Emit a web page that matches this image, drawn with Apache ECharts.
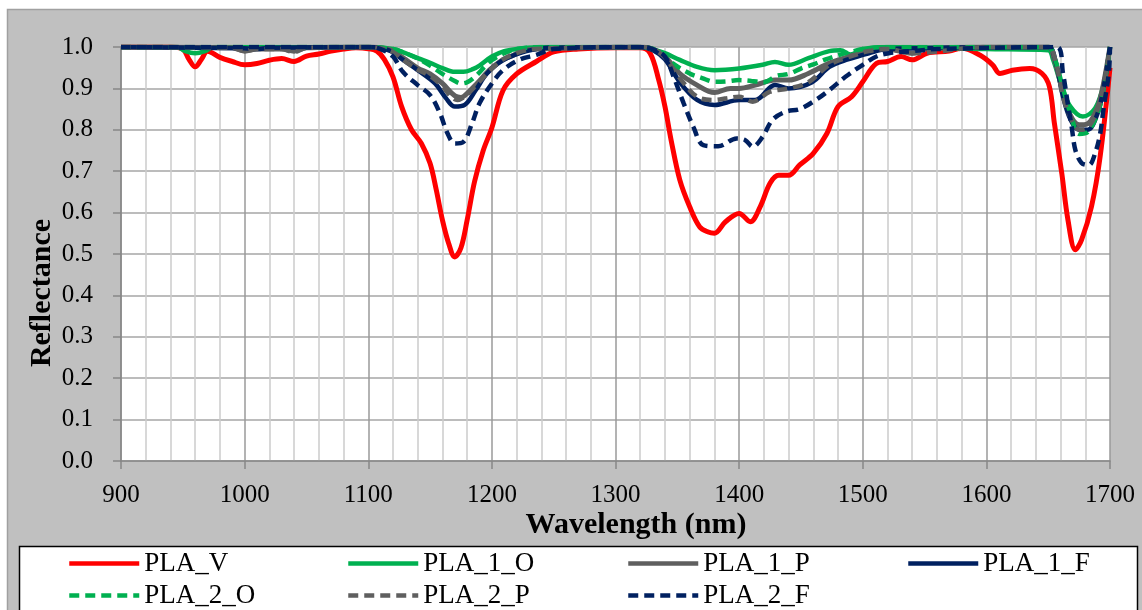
<!DOCTYPE html>
<html>
<head>
<meta charset="utf-8">
<script src="https://cdn.jsdelivr.net/npm/echarts@6/dist/echarts.min.js"></script>
<style>
html,body{margin:0;padding:0;background:#fff;}
#chart{width:1142px;height:610px;}
</style>
</head>
<body>
<div id="chart"></div>
<script>
// ---- data ----
const seriesNames = ['PLA_V','PLA_1_O','PLA_1_P','PLA_1_F','PLA_2_O','PLA_2_P','PLA_2_F'];

const plaV_x = [900,940,950,955,960,965,970,980,990,1000,1010,1020,1030,1040,1050,1060,1070,1080,1090,1100,1107,1113,1120,1127,1135,1143,1150,1155,1160,1165,1170,1175,1180,1186,1193,1200,1209,1220,1236,1250,1270,1300,1320,1328,1335,1340,1345,1352,1360,1368,1375,1380,1389,1400,1409,1417,1425,1432,1440,1449,1460,1471,1480,1491,1500,1511,1520,1531,1540,1552,1570,1580,1595,1605,1611,1621,1635,1645,1651,1655,1661,1666,1672,1677,1685,1692,1700];
const plaV_y = [1.0,1.0,0.995,0.97,0.952,0.97,0.99,0.975,0.965,0.957,0.96,0.968,0.972,0.965,0.978,0.983,0.99,0.995,0.998,0.996,0.99,0.97,0.928,0.856,0.8,0.767,0.719,0.655,0.582,0.526,0.493,0.515,0.582,0.675,0.75,0.805,0.895,0.935,0.965,0.988,0.995,0.998,0.998,0.985,0.92,0.856,0.775,0.679,0.614,0.566,0.553,0.55,0.578,0.598,0.578,0.614,0.671,0.69,0.69,0.715,0.743,0.791,0.856,0.88,0.916,0.96,0.965,0.977,0.969,0.985,0.99,0.997,0.98,0.957,0.936,0.944,0.948,0.936,0.904,0.816,0.695,0.582,0.51,0.534,0.614,0.735,0.95];

const pla1O_x = [900,945,952,960,968,975,1100,1120,1130,1140,1150,1160,1170,1177,1185,1190,1200,1210,1220,1240,1320,1330,1340,1352,1366,1380,1400,1419,1429,1440,1456,1473,1482,1490,1500,1520,1600,1650,1654,1661,1668,1678,1688,1695,1700];
const pla1O_y = [1.0,1.0,0.99,0.985,0.99,1.0,1.0,0.995,0.985,0.973,0.962,0.949,0.94,0.94,0.947,0.955,0.977,0.99,0.995,1.0,1.0,0.995,0.985,0.969,0.952,0.944,0.948,0.957,0.964,0.957,0.973,0.99,0.992,0.982,0.995,1.0,0.995,0.992,0.969,0.904,0.856,0.832,0.852,0.912,1.0];

const pla1P_x = [900,990,1000,1010,1030,1040,1050,1100,1110,1120,1130,1140,1150,1160,1170,1175,1180,1188,1198,1208,1215,1225,1235,1320,1330,1340,1352,1366,1380,1393,1400,1413,1429,1440,1456,1473,1489,1505,1520,1530,1540,1550,1600,1650,1655,1662,1668,1675,1682,1690,1695,1700];
const pla1P_y = [1.0,0.998,0.99,0.995,0.995,0.99,0.998,1.0,0.998,0.99,0.97,0.949,0.935,0.912,0.882,0.878,0.888,0.912,0.944,0.968,0.977,0.99,0.995,1.0,0.995,0.977,0.936,0.908,0.89,0.9,0.9,0.908,0.92,0.92,0.936,0.961,0.977,0.99,0.995,0.99,0.985,0.995,1.0,1.0,0.97,0.89,0.835,0.812,0.815,0.855,0.915,1.0];

const pla1F_x = [900,1000,1010,1020,1100,1110,1118,1130,1140,1154,1163,1170,1178,1187,1196,1209,1228,1245,1320,1330,1340,1352,1366,1380,1400,1413,1429,1440,1459,1473,1488,1505,1520,1650,1656,1662,1668,1675,1682,1690,1695,1700];
const pla1F_y = [1.0,0.997,0.995,0.998,1.0,0.997,0.99,0.965,0.944,0.912,0.876,0.856,0.86,0.896,0.936,0.968,0.99,0.998,1.0,0.993,0.97,0.915,0.872,0.86,0.872,0.872,0.908,0.9,0.915,0.952,0.97,0.985,0.995,1.0,0.965,0.88,0.825,0.8,0.8,0.84,0.905,1.0];

const pla2O_x = [900,1100,1120,1130,1140,1150,1160,1170,1175,1180,1187,1195,1200,1210,1220,1240,1320,1335,1346,1360,1370,1380,1390,1400,1410,1420,1430,1440,1450,1460,1470,1480,1490,1500,1520,1650,1655,1662,1668,1675,1682,1690,1695,1700];
const pla2O_y = [1.0,1.0,0.995,0.985,0.972,0.955,0.935,0.918,0.912,0.915,0.93,0.955,0.968,0.985,0.995,1.0,1.0,0.99,0.961,0.936,0.925,0.916,0.917,0.92,0.918,0.915,0.93,0.935,0.948,0.958,0.97,0.98,0.988,0.995,1.0,1.0,0.975,0.9,0.84,0.79,0.795,0.84,0.9,1.0];

const pla2P_x = [900,990,1000,1010,1030,1040,1050,1100,1110,1120,1130,1140,1150,1160,1167,1172,1178,1188,1198,1208,1220,1235,1320,1330,1340,1352,1366,1380,1390,1400,1411,1425,1440,1456,1473,1488,1505,1520,1540,1600,1650,1656,1662,1668,1675,1682,1690,1695,1700];
const pla2P_y = [1.0,0.998,0.99,0.995,0.995,0.988,0.998,1.0,0.997,0.988,0.965,0.945,0.93,0.905,0.88,0.872,0.88,0.91,0.942,0.968,0.985,0.995,1.0,0.995,0.975,0.925,0.88,0.872,0.876,0.88,0.868,0.892,0.9,0.915,0.957,0.975,0.99,0.995,0.985,1.0,1.0,0.965,0.88,0.83,0.8,0.805,0.85,0.91,1.0];

const pla2F_x = [900,1100,1110,1120,1128,1140,1150,1158,1164,1170,1177,1184,1190,1200,1209,1222,1236,1250,1320,1330,1340,1347,1355,1363,1371,1383,1398,1405,1411,1419,1427,1438,1449,1462,1473,1486,1500,1511,1521,1540,1560,1657,1662,1666,1669,1672,1677,1683,1688,1692,1695,1699,1700];
const pla2F_y = [1.0,1.0,0.995,0.977,0.94,0.908,0.884,0.84,0.792,0.767,0.771,0.816,0.864,0.912,0.944,0.969,0.981,0.995,1.0,0.995,0.977,0.928,0.865,0.807,0.763,0.76,0.779,0.775,0.759,0.783,0.824,0.844,0.85,0.872,0.896,0.928,0.957,0.977,0.985,0.99,0.995,1.0,0.936,0.86,0.807,0.751,0.72,0.715,0.744,0.79,0.856,0.936,1.0];

const xs = [plaV_x, pla1O_x, pla1P_x, pla1F_x, pla2O_x, pla2P_x, pla2F_x];
const ys = [plaV_y, pla1O_y, pla1P_y, pla1F_y, pla2O_y, pla2P_y, pla2F_y];

// ---- styles ----
const colors = ['#ff0000','#00b050','#5f5f5f','#002060','#00b050','#5f5f5f','#002060'];
const dashed = [false,false,false,false,true,true,true];
const widths = [5,4.5,5,4.5,4.5,4.5,4.5];
const serif = '"Liberation Serif","Times New Roman",serif';

const series = seriesNames.map((n, i) => ({
  name: n,
  type: 'line',
  data: xs[i].map((x, k) => [x, ys[i][k]]),
  smooth: 0.35,
  symbol: 'none',
  clip: true,
  lineStyle: {
    color: colors[i],
    width: widths[i],
    type: dashed[i] ? [10, 6] : 'solid'
  },
  itemStyle: { color: colors[i] },
  z: 2 + i
}));

const legendCols = [67, 346, 626, 906];
const legendRows = [550, 582];
const legends = seriesNames.map((n, i) => ({
  data: [n],
  left: legendCols[i % 4],
  top: legendRows[Math.floor(i / 4)],
  orient: 'horizontal',
  itemWidth: 70,
  itemHeight: 14,
  itemGap: 0,
  padding: 0,
  selectedMode: false,
  itemStyle: { opacity: 0 },
  lineStyle: { width: 4.5, type: dashed[i] ? [10, 6] : 'solid', color: colors[i] },
  textStyle: { fontFamily: serif, fontSize: 27, color: '#000' }
}));

const chart = echarts.init(document.getElementById('chart'), null, { renderer: 'canvas' });
chart.setOption({
  backgroundColor: '#ffffff',
  animation: false,
  graphic: [
    { type: 'rect', z: -10, shape: { x: 7.5, y: 9.5, width: 1140, height: 610 },
      style: { fill: '#c0c0c0', stroke: '#a0a0a0', lineWidth: 1.5 } },
    { type: 'rect', z: -5, shape: { x: 19.5, y: 546.5, width: 1118, height: 70 },
      style: { fill: '#ffffff', stroke: '#000000', lineWidth: 1.5 } },
    { type: 'text', z: 5, x: 636, y: 525,
      style: { text: 'Wavelength (nm)', font: 'bold 30px ' + serif, fill: '#000', textAlign: 'center', textVerticalAlign: 'middle' } },
    { type: 'text', z: 5, x: 42, y: 293, rotation: Math.PI / 2,
      style: { text: 'Reflectance', font: 'bold 30px ' + serif, fill: '#000', textAlign: 'center', textVerticalAlign: 'middle' } }
  ],
  grid: { left: 121, top: 47, width: 989, height: 414, show: true, backgroundColor: '#ffffff', borderWidth: 0, containLabel: false },
  xAxis: {
    type: 'value', min: 900, max: 1700, interval: 100,
    axisLine: { show: true, lineStyle: { color: '#868686', width: 1.5 } },
    axisTick: { show: true, inside: false, length: 8, lineStyle: { color: '#868686', width: 1.5 } },
    minorTick: { show: false, splitNumber: 5 },
    minorSplitLine: { show: true, lineStyle: { color: '#cccccc', width: 1.5 } },
    splitLine: { show: true, lineStyle: { color: '#9a9a9a', width: 1.5 } },
    axisLabel: { fontFamily: serif, fontSize: 25, color: '#000', margin: 22, formatter: v => String(v) }
  },
  yAxis: {
    type: 'value', min: 0, max: 1, interval: 0.1,
    axisLine: { show: true, lineStyle: { color: '#868686', width: 1.5 } },
    axisTick: { show: true, inside: false, length: 8, lineStyle: { color: '#868686', width: 1.5 } },
    splitLine: { show: true, lineStyle: { color: '#a6a6a6', width: 1.5 } },
    axisLabel: { fontFamily: serif, fontSize: 25, color: '#000', margin: 28, formatter: v => v.toFixed(1) }
  },
  legend: legends,
  series: series
});
</script>
</body>
</html>
